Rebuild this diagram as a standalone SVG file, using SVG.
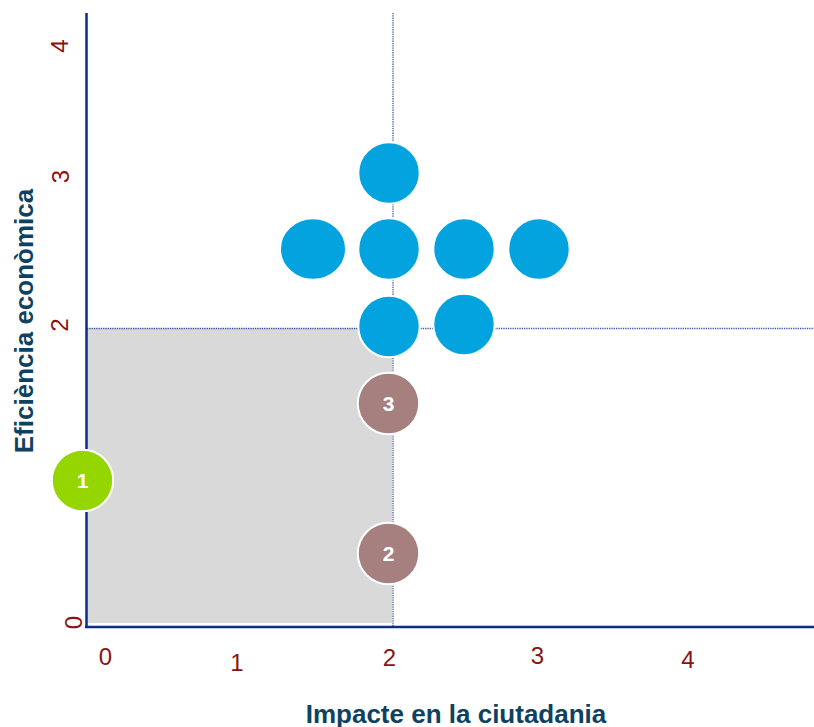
<svg xmlns="http://www.w3.org/2000/svg" width="814" height="727" viewBox="0 0 814 727">
<style>
.tick{font-family:"Liberation Sans",Arial,sans-serif;font-size:24px;fill:#8b1212}
.title{font-family:"Liberation Sans",Arial,sans-serif;font-size:26px;font-weight:bold;fill:#0f4260}
.num{font-family:"Liberation Sans",Arial,sans-serif;font-size:21px;font-weight:bold;fill:#ffffff;text-anchor:middle}
.blue{fill:#02a3df;stroke:#ffffff;stroke-width:2}
.brown{fill:#a6807e;stroke:#ffffff;stroke-width:2}
.green{fill:#95d600;stroke:#ffffff;stroke-width:2}
.guide{stroke:#3a5aa8;stroke-width:1.3;stroke-dasharray:1.3 1;fill:none}
.axis{stroke:#0b2d87;stroke-width:2.5;fill:none}
</style>
<rect width="814" height="727" fill="#ffffff"/>
<rect id="quadrant" x="87" y="328" width="305" height="295" fill="#d9d9d9"/>
<g id="axes">
<line class="guide" x1="393" y1="13" x2="393" y2="627"/>
<line class="guide" x1="87" y1="328.5" x2="814" y2="328.5"/>
<line class="axis" x1="86.5" y1="13" x2="86.5" y2="628"/>
<line class="axis" x1="85" y1="627" x2="814" y2="627"/>
</g>
<g id="x-ticks" class="tick" text-anchor="middle">
<text x="105.5" y="665">0</text>
<text x="237" y="671">1</text>
<text x="389.5" y="666">2</text>
<text x="537.5" y="664">3</text>
<text x="688" y="668">4</text>
</g>
<g id="y-ticks" class="tick" text-anchor="middle">
<text transform="translate(68,46) rotate(-90)">4</text>
<text transform="translate(69,176.5) rotate(-90)">3</text>
<text transform="translate(68,325) rotate(-90)">2</text>
<text transform="translate(82,622.5) rotate(-90)">0</text>
</g>
<text id="x-title" class="title" x="456" y="722.5" text-anchor="middle">Impacte en la ciutadania</text>
<text id="y-title" class="title" text-anchor="middle" transform="translate(33,321) rotate(-90)">Eficiència econòmica</text>
<g id="nodes">
<g id="b1"><circle class="blue" cx="389" cy="173" r="30.7"/></g>
<g id="b2"><ellipse class="blue" cx="313" cy="249" rx="33" ry="30.7"/></g>
<g id="b3"><circle class="blue" cx="389" cy="249" r="30.7"/></g>
<g id="b4"><circle class="blue" cx="464" cy="249" r="30.7"/></g>
<g id="b5"><circle class="blue" cx="539" cy="249" r="30.7"/></g>
<g id="b6"><circle class="blue" cx="389" cy="326.5" r="30.7"/></g>
<g id="b7"><circle class="blue" cx="464" cy="324.5" r="30.7"/></g>
<g id="n3"><circle class="brown" cx="388.5" cy="403.5" r="30.7"/><text class="num" x="388.5" y="411">3</text></g>
<g id="n2"><circle class="brown" cx="388.5" cy="553.5" r="30.7"/><text class="num" x="388.5" y="561">2</text></g>
<g id="n1"><circle class="green" cx="82.5" cy="480.5" r="30.7"/><text class="num" x="82.5" y="488">1</text></g>
</g>
<g id="connectors"/>
</svg>
